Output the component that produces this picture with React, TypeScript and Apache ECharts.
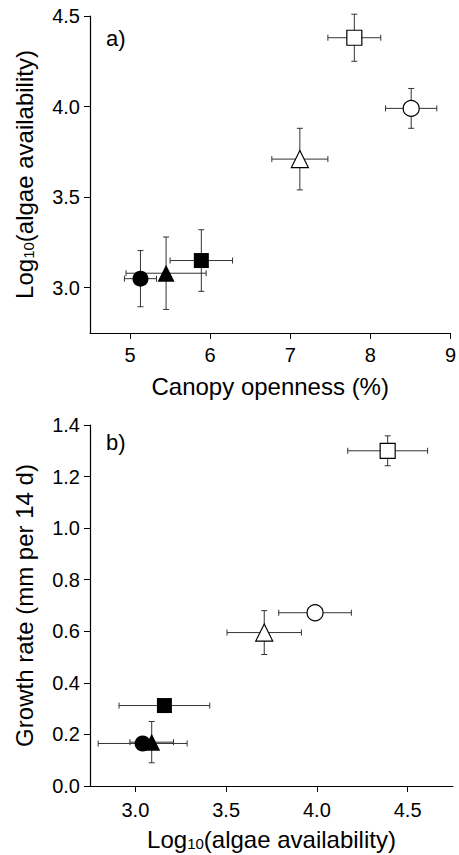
import React, { useEffect, useRef } from "react";
import * as echarts from "echarts";

// Marker kinds (shared by both panels)
const markerSymbols = ["rect", "circle", "triangle", "rect", "circle", "triangle"];
const markerFilled = [false, false, false, true, true, true];

// Panel a) Canopy openness vs log10(algae availability)
const canopyOpenness = [7.8, 8.51, 7.12, 5.89, 5.13, 5.45];
const canopyOpennessErr = [0.33, 0.32, 0.35, 0.39, 0.2, 0.5];
const algaeA = [4.38, 3.99, 3.71, 3.15, 3.05, 3.08];
const algaeAErr = [0.13, 0.11, 0.17, 0.17, 0.155, 0.2];

// Panel b) log10(algae availability) vs growth rate
const algaeB = [4.39, 3.99, 3.71, 3.16, 3.04, 3.09];
const algaeBErr = [0.22, 0.2, 0.205, 0.25, 0.245, 0.12];
const growthRate = [1.3, 0.672, 0.595, 0.312, 0.165, 0.17];
const growthRateErr = [0.058, 0.02, 0.085, 0.02, 0.02, 0.08];

// Tick labels
const canopyTicks = [5, 6, 7, 8, 9];
const algaeTicksA = [3.0, 3.5, 4.0, 4.5];
const algaeTicksB = [3.0, 3.5, 4.0, 4.5];
const growthTicks = [0.0, 0.2, 0.4, 0.6, 0.8, 1.0, 1.2, 1.4];

const FONT = '"Liberation Sans", Arial, Helvetica, sans-serif';

const renderErr = (params: any, api: any) => {
  const x = api.value(0);
  const y = api.value(1);
  const ex = api.value(2);
  const ey = api.value(3);
  const l = api.coord([x - ex, y]);
  const r = api.coord([x + ex, y]);
  const t = api.coord([x, y + ey]);
  const b = api.coord([x, y - ey]);
  const cap = 3;
  const style = { stroke: "#333", lineWidth: 1 };
  const ln = (x1: number, y1: number, x2: number, y2: number) => ({
    type: "line",
    shape: { x1, y1, x2, y2 },
    style,
  });
  return {
    type: "group",
    children: [
      ln(l[0], l[1], r[0], r[1]),
      ln(l[0], l[1] - cap, l[0], l[1] + cap),
      ln(r[0], r[1] - cap, r[0], r[1] + cap),
      ln(t[0], t[1], b[0], b[1]),
      ln(t[0] - cap, t[1], t[0] + cap, t[1]),
      ln(b[0] - cap, b[1], b[0] + cap, b[1]),
    ],
  };
};

const sizeFor = (s: string) => (s === "rect" ? 15 : s === "circle" ? 16 : 17);

const pointItems = (xs: number[], ys: number[]) =>
  xs.map((x, i) => ({
    value: [x, ys[i]],
    symbol: markerSymbols[i],
    symbolSize: sizeFor(markerSymbols[i]),
    itemStyle: {
      color: markerFilled[i] ? "#000" : "#fff",
      borderColor: "#000",
      borderWidth: markerFilled[i] ? 0 : 1.2,
      opacity: 1,
    },
  }));

const errItems = (xs: number[], ys: number[], exs: number[], eys: number[]) =>
  xs.map((x, i) => [x, ys[i], exs[i], eys[i]]);

const sub = {
  sub: { fontSize: 15, fontFamily: FONT, color: "#000", verticalAlign: "bottom", padding: [6, 0, 0, 0] },
};

const axisCommon = {
  axisLine: { show: true, onZero: false, lineStyle: { color: "#000", width: 1.2 } },
  axisTick: { show: true, inside: false, length: 6, lineStyle: { color: "#000", width: 1 } },
  splitLine: { show: false },
  nameLocation: "middle",
};

export default function App() {
  const ref = useRef<HTMLDivElement>(null);
  useEffect(() => {
    if (!ref.current) return;
    const chart = echarts.init(ref.current, undefined, { renderer: "svg" });
    const tickLabel = { fontSize: 20, fontFamily: FONT, color: "#000" };
    const nameStyle = { fontSize: 24, fontFamily: FONT, color: "#000", rich: sub };
    chart.setOption({
      animation: false,
      backgroundColor: "#fff",
      grid: [
        { left: 90, top: 16, width: 362, height: 317 },
        { left: 90, top: 425, width: 363, height: 361 },
      ],
      xAxis: [
        {
          ...axisCommon,
          gridIndex: 0,
          type: "value",
          min: 4.5,
          max: 9,
          name: "Canopy openness (%)",
          nameGap: 41,
          nameTextStyle: nameStyle,
          axisTick: { ...axisCommon.axisTick, customValues: canopyTicks },
          axisLabel: { ...tickLabel, margin: 12, customValues: canopyTicks, formatter: (v: number) => String(v) },
        },
        {
          ...axisCommon,
          gridIndex: 1,
          type: "value",
          min: 2.75,
          max: 4.75,
          name: "Log{sub|10}(algae availability)",
          nameGap: 41,
          nameTextStyle: nameStyle,
          axisTick: { ...axisCommon.axisTick, customValues: algaeTicksB },
          axisLabel: { ...tickLabel, margin: 14, customValues: algaeTicksB, formatter: (v: number) => v.toFixed(1) },
        },
      ],
      yAxis: [
        {
          ...axisCommon,
          gridIndex: 0,
          type: "value",
          min: 2.75,
          max: 4.5,
          name: "Log{sub|10}(algae availability)",
          nameGap: 54,
          nameTextStyle: nameStyle,
          axisTick: { ...axisCommon.axisTick, customValues: algaeTicksA },
          axisLabel: { ...tickLabel, margin: 10, customValues: algaeTicksA, formatter: (v: number) => v.toFixed(1) },
        },
        {
          ...axisCommon,
          gridIndex: 1,
          type: "value",
          min: 0,
          max: 1.4,
          name: "Growth rate (mm per 14 d)",
          nameGap: 54,
          nameTextStyle: nameStyle,
          axisTick: { ...axisCommon.axisTick, customValues: growthTicks },
          axisLabel: { ...tickLabel, margin: 10, customValues: growthTicks, formatter: (v: number) => v.toFixed(1) },
        },
      ],
      graphic: [
        { type: "text", left: 106, top: 27, style: { text: "a)", font: `22px ${FONT}`, fill: "#000" } },
        { type: "text", left: 106, top: 431, style: { text: "b)", font: `22px ${FONT}`, fill: "#000" } },
      ],
      series: [
        {
          type: "custom",
          xAxisIndex: 0,
          yAxisIndex: 0,
          renderItem: renderErr,
          encode: { x: 0, y: 1 },
          data: errItems(canopyOpenness, algaeA, canopyOpennessErr, algaeAErr),
          z: 1,
          silent: true,
        },
        {
          type: "scatter",
          xAxisIndex: 0,
          yAxisIndex: 0,
          data: pointItems(canopyOpenness, algaeA),
          itemStyle: { opacity: 1 },
          z: 2,
        },
        {
          type: "custom",
          xAxisIndex: 1,
          yAxisIndex: 1,
          renderItem: renderErr,
          encode: { x: 0, y: 1 },
          data: errItems(algaeB, growthRate, algaeBErr, growthRateErr),
          z: 1,
          silent: true,
        },
        {
          type: "scatter",
          xAxisIndex: 1,
          yAxisIndex: 1,
          data: pointItems(algaeB, growthRate),
          itemStyle: { opacity: 1 },
          z: 2,
        },
      ],
    });
    return () => chart.dispose();
  }, []);
  return (
    <div
      ref={ref}
      style={{ position: "absolute", left: 0, top: 0, width: 459, height: 855, background: "#fff" }}
    />
  );
}
